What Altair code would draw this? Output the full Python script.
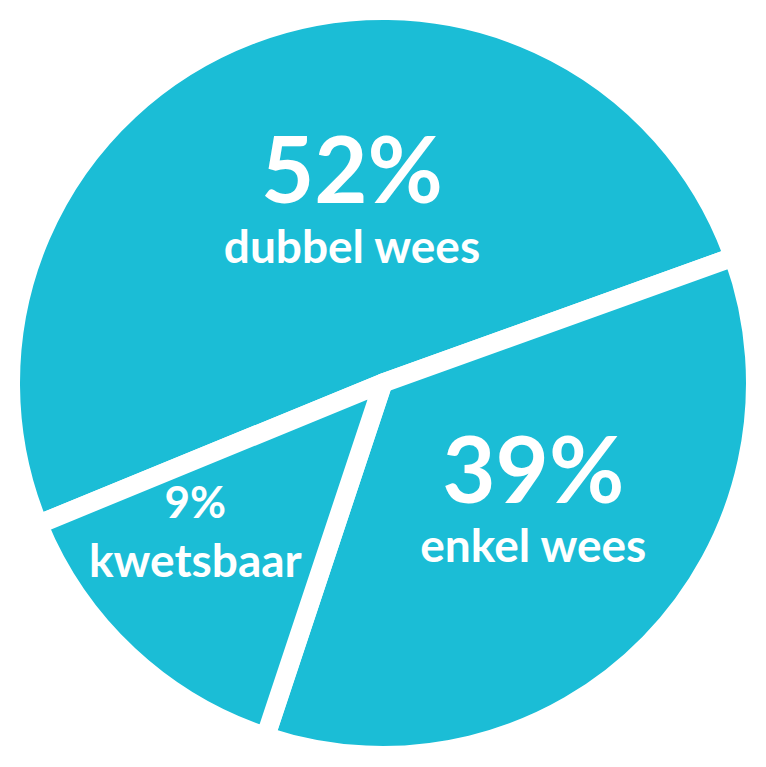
import math
import altair as alt
import pandas as pd

# ---- data ----
categories = ["dubbel wees", "enkel wees", "kwetsbaar"]
pct_values = [52, 39, 9]             # percentages printed on the slices
drawn_share = [50.7, 35.6, 13.7]     # share of the circle each slice occupies as drawn
slice_order = [1, 2, 3]

df = pd.DataFrame({
    "category": categories,
    "pct": pct_values,
    "share": drawn_share,
    "order": slice_order,
})
df["pct_label"] = [f"{v}%" for v in pct_values]

FILL = "#1bbdd6"
FONT = "Lato"
start = math.radians(247.7)
theta_scale = alt.Scale(domain=[0, 100], range=[start, start + 2 * math.pi])

base = alt.Chart(df)

arcs = base.mark_arc(
    outerRadius=372.5, stroke="white", strokeWidth=19, strokeJoin="round"
).encode(
    theta=alt.Theta("share:Q", stack=True, scale=theta_scale),
    order=alt.Order("order:Q"),
    color=alt.value(FILL),
)

mids = base.transform_window(
    cum="sum(share)", sort=[alt.SortField("order")], frame=[None, 0]
).transform_calculate(mid="datum.cum - datum.share / 2")

# per-slice label placement: radius along slice middle, offsets, sizes
label_style = {
    "dubbel wees": dict(r=170, dx=30, dy_pct=-21, dy_name=39, s_pct=92, s_name=46),
    "enkel wees": dict(r=210, dx=0, dy_pct=-27, dy_name=32, s_pct=92, s_name=46),
    "kwetsbaar": dict(r=250, dx=-17, dy_pct=-48, dy_name=11, s_pct=44, s_name=46),
}

layers = [arcs]
for cat, st in label_style.items():
    sub = mids.transform_filter(alt.datum.category == cat)
    for field, dy, size in [("pct_label", st["dy_pct"], st["s_pct"]),
                            ("category", st["dy_name"], st["s_name"])]:
        layers.append(
            sub.mark_text(
                radius=st["r"], dx=st["dx"], dy=dy,
                font=FONT, fontWeight="bold", fontSize=size,
                align="center", baseline="alphabetic", fill="white",
            ).encode(
                theta=alt.Theta("mid:Q", stack=None, scale=theta_scale),
                text=alt.Text(f"{field}:N"),
            )
        )

chart = alt.layer(*layers).properties(
    width=750, height=750, padding=0,
    autosize=alt.AutoSizeParams(type="none"),
).configure_view(strokeWidth=0)

chart.save("out.html", embed_options={"renderer": "svg", "actions": False})
